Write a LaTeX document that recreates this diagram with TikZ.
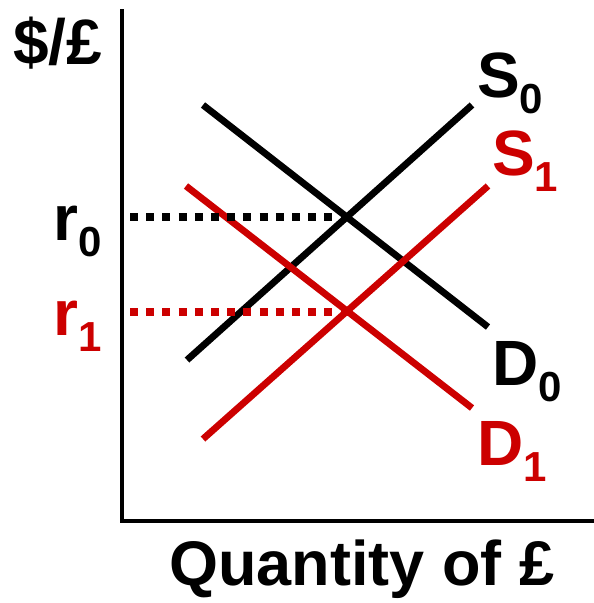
\documentclass[tikz,border=0pt]{standalone}
\usepackage{fontspec}
\setmainfont{Liberation Sans}
\usetikzlibrary{positioning}
\definecolor{CurveRed}{HTML}{CC0000}
\newcommand{\lowidx}[1]{\raisebox{-16pt}{\fontsize{42}{42}\selectfont#1}}
\tikzset{tag/.style={font=\fontsize{64}{64}\selectfont\bfseries,inner sep=0pt,anchor=base west},
 curve/.style={line width=6.8pt},guide/.style={line width=8pt,dash pattern=on 8pt off 8.2pt},
 axis/.style={line width=4pt}}
\begin{document}
\begin{tikzpicture}[x=1pt,y=-1pt]
\useasboundingbox (0,0) rectangle (594,603);
\coordinate (origin) at (122,521);
\coordinate (e0) at (347,217);
\coordinate (e1) at (348,312);
\draw[axis] (122,9)--(origin)--(594,521);
% curves
\draw[curve] (187,360) coordinate (s0a)--(472,105) coordinate (s0b);
\draw[curve] (203,105) coordinate (d0a)--(488,327) coordinate (d0b);
\draw[curve,CurveRed] (203,439) coordinate (s1a)--(488,186) coordinate (s1b);
\draw[curve,CurveRed] (186,186) coordinate (d1a)--(472,408) coordinate (d1b);
\draw[guide] (130,217)--(e0);
\draw[guide,CurveRed] (130,312)--(e1);
% labels
\node[tag] (price) at (13,64) {\$/£};
\node[tag] (S0) at (477,97) {S\lowidx{0}};
\node[tag,CurveRed] (S1) at (492,175) {S\lowidx{1}};
\node[tag] (D0) at (492,385) {D\lowidx{0}};
\node[tag,CurveRed] (D1) at (477,465) {D\lowidx{1}};
\node[tag] (r0) at (53,240) {r\lowidx{0}};
\node[tag,CurveRed] (r1) at (53,335) {r\lowidx{1}};
\node[tag,font=\fontsize{63}{63}\selectfont\bfseries] (qty) at (169,585) {Quantity of £};
\end{tikzpicture}
\end{document}
